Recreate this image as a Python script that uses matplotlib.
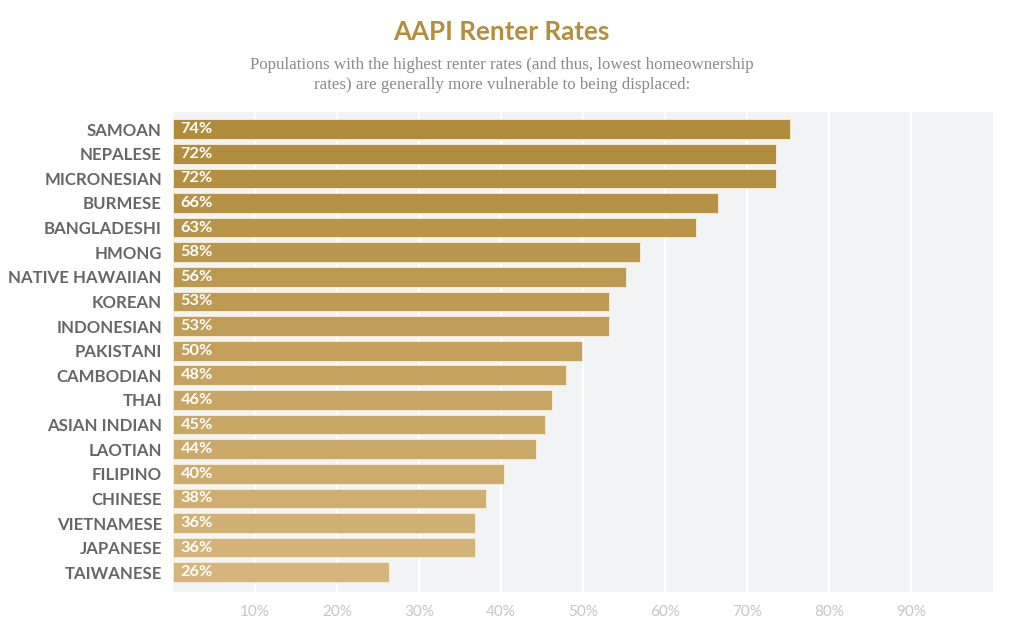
import numpy as np
import matplotlib
matplotlib.use("Agg")
import matplotlib.pyplot as plt
from matplotlib.colors import LinearSegmentedColormap

# groups, top to bottom
groups = ["SAMOAN", "NEPALESE", "MICRONESIAN", "BURMESE", "BANGLADESHI", "HMONG",
          "NATIVE HAWAIIAN", "KOREAN", "INDONESIAN", "PAKISTANI", "CAMBODIAN", "THAI",
          "ASIAN INDIAN", "LAOTIAN", "FILIPINO", "CHINESE", "VIETNAMESE", "JAPANESE",
          "TAIWANESE"]
# bar lengths as drawn (percent)
renter_rate = [75.2, 73.5, 73.5, 66.4, 63.7, 56.9, 55.2, 53.2, 53.2, 49.9, 47.9,
               46.2, 45.4, 44.3, 40.3, 38.1, 36.8, 36.8, 26.3]
# printed labels
rate_labels = ["74%", "72%", "72%", "66%", "63%", "58%", "56%", "53%", "53%", "50%",
               "48%", "46%", "45%", "44%", "40%", "38%", "36%", "36%", "26%"]
x_ticks = [10, 20, 30, 40, 50, 60, 70, 80, 90]
x_tick_labels = [f"{t}%" for t in x_ticks]

title = "AAPI Renter Rates"
subtitle = ("Populations with the highest renter rates (and thus, lowest homeownership\n"
            "rates) are generally more vulnerable to being displaced:")

gold = "#B38E3D"
cmap = LinearSegmentedColormap.from_list("gold", ["#B08B3A", "#D5B57B"])
colors = [cmap(v) for v in np.linspace(0, 1, len(groups))]

fig = plt.figure(figsize=(10.24, 6.3), dpi=100)
ax = fig.add_axes([0.169, 0.060, 0.801, 0.762])
ax.set_facecolor("#F2F3F5")

y = np.arange(len(groups))
ax.barh(y, renter_rate, height=0.8, color=colors, edgecolor="#F7EEDC",
        linewidth=0.6, zorder=3)

for yi, lab in zip(y, rate_labels):
    ax.text(0.9, yi, lab, ha="left", va="center", color="white",
            fontfamily="Lato", fontweight="bold", fontsize=11.8, zorder=4)

ax.set_xlim(0, 100)
ax.set_ylim(len(groups) - 1 + 0.81, -0.69)
ax.set_xticks(x_ticks)
ax.set_xticklabels(x_tick_labels, fontfamily="Lato", fontsize=11, color="#C4C6C9")
ax.set_yticks(y)
ax.set_yticklabels(groups, fontfamily="Lato", fontweight="bold", fontsize=12.1,
                   color="#666666")
ax.tick_params(axis="both", length=0)
ax.tick_params(axis="y", pad=8)
ax.tick_params(axis="x", pad=9)
ax.grid(axis="x", color="white", linewidth=1.6, zorder=1)
ax.grid(axis="y", visible=False)
for s in ax.spines.values():
    s.set_visible(False)

fig.text(0.490, 0.950, title, ha="center", va="center", fontfamily="Lato",
         fontweight="bold", fontsize=18.7, color=gold)
fig.text(0.490, 0.881, subtitle, ha="center", va="center", fontfamily="Liberation Serif",
         fontsize=12.2, color="#8A8A8A", linespacing=1.3)

fig.savefig("out.png", dpi=100, facecolor="white")
